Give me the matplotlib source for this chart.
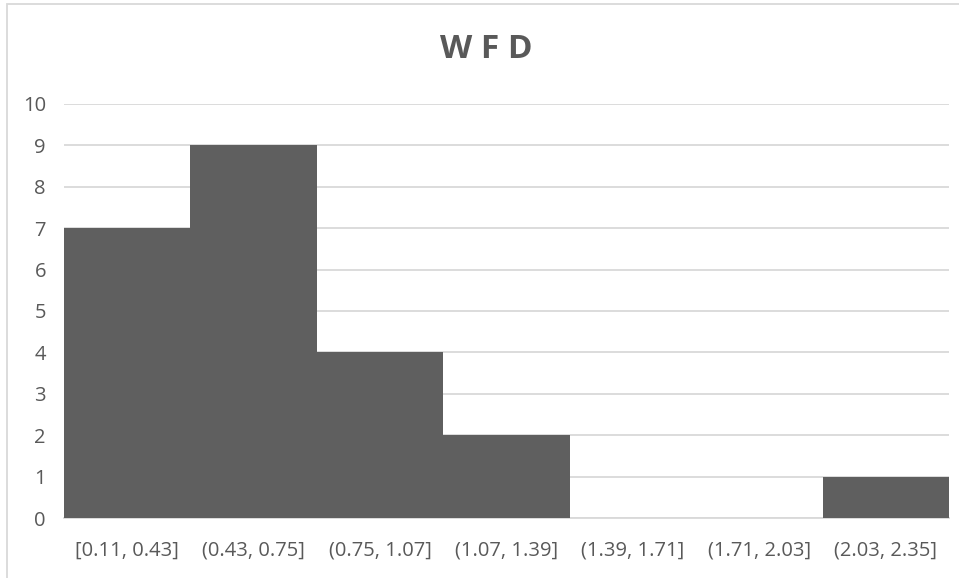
import matplotlib
matplotlib.use("Agg")
from matplotlib import pyplot as plt
from matplotlib.patches import Rectangle

# bins and counts
bins = ["[0.11, 0.43]", "(0.43, 0.75]", "(0.75, 1.07]", "(1.07, 1.39]",
        "(1.39, 1.71]", "(1.71, 2.03]", "(2.03, 2.35]"]
counts = [7, 9, 4, 2, 0, 0, 1]
yticks = list(range(0, 11))

plt.rcParams['font.family'] = ['Open Sans', 'DejaVu Sans']
text_color = "#595959"

fig = plt.figure(figsize=(9.59, 5.78), dpi=100)
ax = fig.add_axes([64/959, 1 - 518/578, (949 - 64)/959, (518 - 104)/578])

x = range(len(bins))
ax.bar(x, counts, width=1.0, color="#5f5f5f", edgecolor="none", zorder=3)

ax.set_xlim(-0.5, len(bins) - 0.5)
ax.set_ylim(0, 10)
ax.set_yticks(yticks)
ax.set_xticks(list(x))
ax.set_xticklabels(bins)
ax.grid(axis='y', color="#d9d9d9", linewidth=1.3, zorder=0)
for s in ["top", "right", "left"]:
    ax.spines[s].set_visible(False)
ax.spines["bottom"].set_color("#d9d9d9")
ax.spines["bottom"].set_linewidth(1.3)
ax.tick_params(axis='both', length=0, labelsize=14.5, colors=text_color)
ax.tick_params(axis='x', pad=16)
ax.tick_params(axis='y', pad=13)

fig.text(486/959, 1 - 49/578, "W F D", ha="center", va="center",
         fontsize=24, fontweight="bold", color=text_color)

# outer chart border
fig.patches.append(Rectangle((7/959, -0.1), 1.0, 1 - 4/578 + 0.1,
                             transform=fig.transFigure, fill=False,
                             edgecolor="#d9d9d9", linewidth=1.3))

fig.savefig("out.png", dpi=100)
